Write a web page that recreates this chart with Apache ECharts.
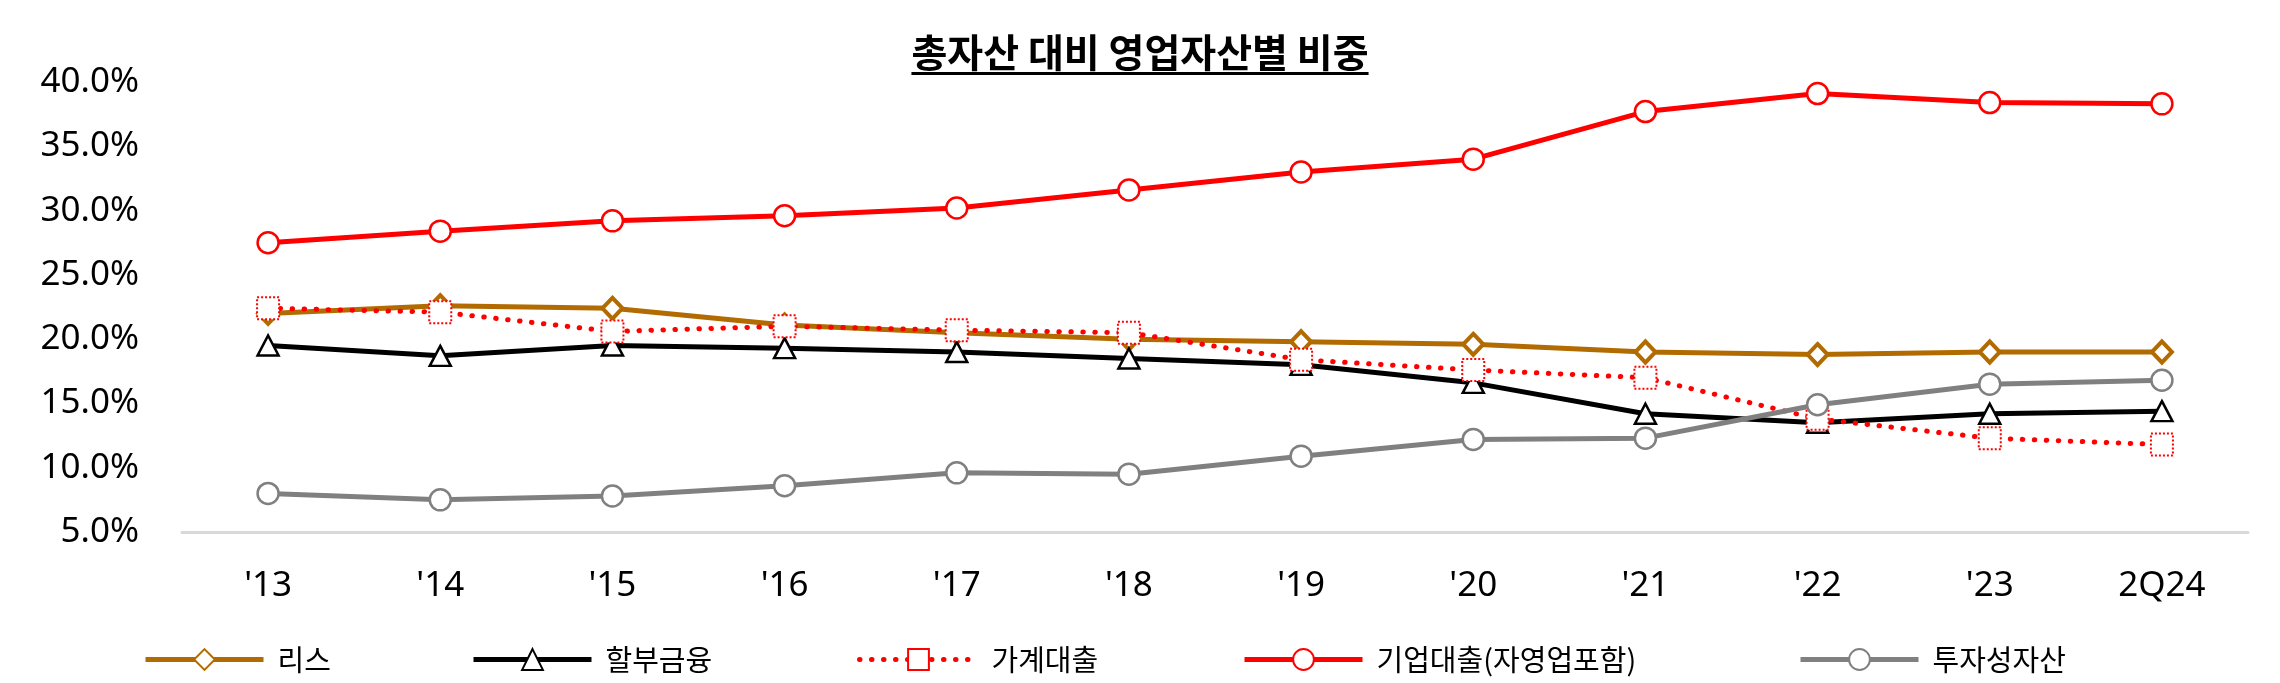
<!DOCTYPE html>
<html>
<head>
<meta charset="utf-8">
<script src="https://cdn.jsdelivr.net/npm/echarts@6/dist/echarts.min.js"></script>
<style>
html,body{margin:0;padding:0;background:#fff;}
#chart{width:2280px;height:683px;}
</style>
</head>
<body>
<div id="chart"></div>
<script>
// ---- data ----
const titleText = '총자산 대비 영업자산별 비중';
const categories = ["'13","'14","'15","'16","'17","'18","'19","'20","'21","'22","'23","2Q24"];
const seriesNames = ['리스','할부금융','가계대출','기업대출(자영업포함)','투자성자산'];
const lease       = [22.0, 22.6, 22.4, 21.1, 20.5, 20.0, 19.8, 19.6, 19.0, 18.8, 19.0, 19.0];
const installment = [19.5, 18.7, 19.5, 19.3, 19.0, 18.5, 18.0, 16.6, 14.2, 13.5, 14.2, 14.4];
const household   = [22.4, 22.1, 20.6, 21.0, 20.7, 20.5, 18.4, 17.6, 17.0, 13.8, 12.3, 11.8];
const corporate   = [27.5, 28.4, 29.2, 29.6, 30.2, 31.6, 33.0, 34.0, 37.7, 39.1, 38.4, 38.3];
const investment  = [8.0, 7.5, 7.8, 8.6, 9.6, 9.5, 10.9, 12.2, 12.3, 14.9, 16.5, 16.8];
const yTicks = { min: 5, max: 40, interval: 5 };

// ---- styles ----
const FONT = '"Noto Sans CJK KR", "Noto Sans", sans-serif';
const NUMFONT = '"Noto Sans", "Open Sans", sans-serif';
const BROWN = '#B26B00', RED = '#FF0000', GRAY = '#808080', BLACK = '#000000';

const chart = echarts.init(document.getElementById('chart'), null, {renderer: 'canvas'});

const titleSize = 39;
const mc = document.createElement('canvas').getContext('2d');
mc.font = 'bold ' + titleSize + 'px ' + FONT;
const titleW = mc.measureText(titleText).width;

const legendPos = [143, 471, 857, 1242, 1798];

const series = [
  {name: seriesNames[0], data: lease, symbol: 'diamond', symbolSize: [20, 21],
   lineStyle: {color: BROWN, width: 5}, itemStyle: {color: '#fff', borderColor: BROWN, borderWidth: 4}},
  {name: seriesNames[1], data: installment, symbol: 'triangle', symbolSize: [21, 20],
   lineStyle: {color: BLACK, width: 5}, itemStyle: {color: '#fff', borderColor: BLACK, borderWidth: 2.5}},
  {name: seriesNames[2], data: household, symbol: 'rect', symbolSize: 22,
   lineStyle: {color: RED, width: 5, type: [0.5, 11.5], cap: 'round'},
   itemStyle: {color: '#fff', borderColor: RED, borderWidth: 2, borderType: [2, 2]}},
  {name: seriesNames[3], data: corporate, symbol: 'circle', symbolSize: 21,
   lineStyle: {color: RED, width: 5}, itemStyle: {color: '#fff', borderColor: RED, borderWidth: 2.5}},
  {name: seriesNames[4], data: investment, symbol: 'circle', symbolSize: 21,
   lineStyle: {color: GRAY, width: 5}, itemStyle: {color: '#fff', borderColor: GRAY, borderWidth: 2.5}}
].map(s => Object.assign({type: 'line', showAllSymbol: true, animation: false, z: 2}, s));

const legends = seriesNames.map((n, i) => ({
  data: [n], left: legendPos[i], top: 645, orient: 'horizontal', padding: 0,
  itemWidth: 118, itemHeight: 26, selectedMode: false,
  lineStyle: {width: 5},
  textStyle: {fontFamily: FONT, fontSize: 29, color: '#000', padding: [0, 0, 0, 9]}
}));

chart.setOption({
  backgroundColor: '#fff',
  animation: false,
  textStyle: {fontFamily: FONT},
  title: {
    text: titleText, left: 'center', top: 28,
    textStyle: {fontFamily: FONT, fontSize: titleSize, fontWeight: 'bold', color: '#000'}
  },
  graphic: [{
    type: 'rect', shape: {x: 1140 - titleW / 2, y: 72, width: titleW, height: 3},
    style: {fill: '#000'}
  }],
  legend: legends,
  grid: {left: 182, right: 32, top: 82, bottom: 151, containLabel: false},
  xAxis: {
    type: 'category', data: categories, boundaryGap: true,
    axisLine: {show: true, lineStyle: {color: '#D9D9D9', width: 3}},
    axisTick: {show: false},
    axisLabel: {fontFamily: NUMFONT, fontSize: 35, color: '#000', margin: 37}
  },
  yAxis: {
    type: 'value', min: yTicks.min, max: yTicks.max, interval: yTicks.interval,
    axisLine: {show: false}, axisTick: {show: false}, splitLine: {show: false},
    axisLabel: {fontFamily: NUMFONT, fontSize: 35, color: '#000', margin: 43,
      formatter: v => v.toFixed(1) + '%'}
  },
  series: series
});
</script>
</body>
</html>
